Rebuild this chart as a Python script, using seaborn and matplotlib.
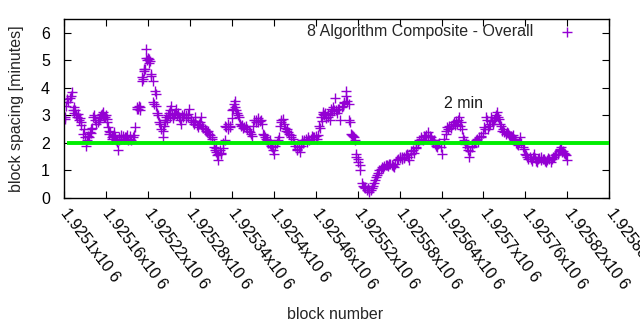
import numpy as np
import pandas as pd
import matplotlib
matplotlib.use("Agg")
import matplotlib.pyplot as plt
import seaborn as sns

base_block = 1925100

# block number relative to base_block
block_offset = [
    1, 2, 3, 4, 6, 8, 10, 12, 13, 14, 15, 16, 17, 18, 20, 22, 23, 24, 25, 27,
    28, 30, 31, 33, 35, 36, 37, 38, 39, 40, 41, 43, 44, 46, 48, 50, 51, 52, 53, 55,
    56, 57, 58, 60, 61, 62, 63, 64, 65, 66, 68, 69, 70, 71, 72, 73, 75, 76, 77, 78,
    79, 81, 82, 84, 86, 87, 89, 90, 92, 94, 95, 96, 98, 100, 102, 104, 105, 106, 107, 108,
    109, 111, 112, 113, 114, 115, 116, 117, 118, 119, 120, 121, 122, 123, 124, 125, 127, 128, 129, 130,
    131, 132, 133, 134, 136, 137, 139, 141, 142, 143, 144, 145, 146, 147, 149, 150, 151, 152, 153, 155,
    156, 158, 159, 160, 162, 163, 165, 166, 167, 169, 170, 172, 174, 175, 177, 178, 179, 181, 182, 184,
    186, 187, 188, 190, 191, 193, 194, 196, 197, 198, 199, 201, 203, 205, 206, 208, 209, 211, 212, 214,
    215, 216, 217, 218, 219, 220, 221, 223, 224, 225, 227, 228, 230, 231, 232, 234, 235, 237, 238, 240,
    241, 242, 243, 244, 245, 246, 247, 249, 251, 252, 253, 255, 256, 258, 260, 262, 264, 266, 268, 269,
    271, 272, 274, 275, 277, 278, 280, 282, 283, 284, 286, 287, 289, 291, 292, 294, 295, 296, 298, 299,
    301, 302, 304, 306, 308, 309, 310, 311, 313, 314, 316, 318, 319, 321, 322, 324, 325, 327, 329, 331,
    333, 334, 336, 337, 339, 341, 342, 344, 346, 348, 349, 351, 353, 355, 356, 358, 360, 362, 363, 365,
    366, 368, 369, 370, 371, 372, 374, 375, 377, 378, 380, 381, 382, 384, 385, 386, 387, 389, 391, 392,
    394, 395, 397, 399, 400, 401, 403, 404, 405, 407, 408, 409, 410, 412, 413, 415, 416, 417, 418, 420,
    421, 423, 424, 426, 427, 429, 430, 431, 433, 435, 436, 437, 439, 440, 442, 444, 445, 446, 448, 449,
    451, 453, 455, 457, 458, 460, 462, 464, 465, 467, 469, 471, 472, 474, 476, 478, 480, 481, 483, 484,
    486, 487, 489, 491, 492, 494, 496, 497, 499, 501, 503, 504, 506, 508, 510, 511, 513, 515, 516, 518,
    520, 521, 523, 525, 526, 528, 529, 531, 532, 534, 535, 537, 539, 541, 543, 544, 546, 547, 548, 550,
    551, 553, 554, 556, 558, 559, 561, 562, 564, 565, 567, 568, 570, 571, 572, 574, 575, 577, 578, 580,
    581, 583, 584, 586, 588, 589, 591, 592, 594, 596, 597, 599, 601, 602, 604, 605, 606, 608, 609, 611,
    612, 614, 615, 617, 618, 620, 621, 622, 624, 625, 627, 628, 630, 632, 633, 635, 636, 638, 639, 641,
    642, 644, 645, 647, 648, 649, 651, 653, 654, 656, 658, 659, 661, 663, 664, 666, 668, 669, 671, 672,
    674, 675, 677, 678, 680, 682, 683, 685, 687, 688, 690, 691, 693, 694, 696, 698, 699, 701, 703, 704,
    706, 708, 709, 710, 711, 712, 714, 715, 717, 718, 720,
]

# block spacing in minutes
spacing_min = [
    2.94, 2.88, 3.35, 3.6, 3.5, 3.65, 3.72, 3.84, 3.18, 3.3, 3.1, 3.2, 3.0, 2.95, 3.05, 2.82, 2.9, 2.65, 2.75, 2.33,
    2.5, 2.2, 1.88, 2.1, 2.27, 2.2, 2.4, 2.35, 2.5, 2.55, 2.94, 3.0, 2.85, 2.7, 2.76, 2.85, 2.94, 2.9, 3.0, 3.05,
    3.12, 2.95, 2.94, 3.0, 2.88, 2.75, 2.57, 2.45, 2.33, 2.4, 2.15, 2.2, 2.27, 2.3, 2.4, 2.2, 2.09, 2.05, 1.73, 2.1,
    2.21, 2.15, 2.3, 2.27, 2.15, 2.2, 2.21, 2.3, 2.1, 2.15, 2.25, 2.1, 2.21, 2.3, 2.57, 3.25, 3.3, 3.24, 3.35, 3.18,
    3.3, 4.26, 4.4, 4.32, 4.7, 4.62, 4.68, 5.1, 5.4, 5.0, 5.1, 5.05, 4.9, 4.98, 4.5, 4.45, 4.26, 3.48, 3.4, 3.9,
    3.35, 3.78, 3.1, 3.0, 2.75, 2.7, 2.5, 2.45, 2.21, 2.6, 2.82, 2.75, 2.94, 2.85, 3.0, 3.1, 3.18, 2.95, 3.35, 3.05,
    2.9, 3.0, 3.1, 3.24, 3.0, 3.1, 2.94, 2.85, 2.7, 3.0, 2.95, 3.06, 3.0, 2.9, 2.94, 3.05, 3.24, 2.85, 2.82, 2.75,
    2.7, 2.8, 2.94, 2.65, 2.57, 2.7, 2.75, 2.94, 2.6, 2.63, 2.55, 2.5, 2.45, 2.4, 2.45, 2.33, 2.3, 2.2, 2.15, 2.0,
    1.85, 1.75, 1.8, 1.67, 1.55, 1.37, 1.6, 1.75, 1.65, 1.61, 1.8, 2.0, 2.09, 2.6, 2.57, 2.5, 2.7, 2.63, 2.57, 2.9,
    3.18, 3.24, 3.4, 3.54, 3.3, 3.18, 3.1, 3.0, 2.94, 2.7, 2.63, 2.65, 2.55, 2.57, 2.6, 2.5, 2.45, 2.4, 2.33, 2.25,
    2.6, 2.82, 2.75, 2.85, 2.76, 2.9, 2.8, 2.82, 2.7, 2.33, 2.3, 2.2, 2.15, 2.1, 2.0, 2.09, 1.95, 1.9, 1.85, 1.75,
    1.61, 1.9, 2.0, 2.1, 2.21, 2.6, 2.82, 2.75, 2.88, 2.7, 2.55, 2.45, 2.5, 2.4, 2.33, 2.3, 2.2, 2.15, 2.0, 1.9,
    1.79, 1.75, 1.85, 1.67, 1.9, 2.09, 2.0, 2.1, 2.15, 2.05, 2.2, 2.1, 2.15, 2.27, 2.2, 2.2, 2.27, 2.15, 2.3, 2.63,
    2.55, 2.94, 2.8, 3.12, 3.05, 3.0, 3.1, 2.9, 2.94, 3.05, 2.82, 3.0, 3.24, 3.15, 3.3, 3.2, 3.65, 3.18, 3.1, 3.25,
    3.24, 2.82, 3.3, 3.35, 3.45, 3.48, 3.9, 3.7, 3.54, 3.4, 2.82, 2.75, 2.33, 2.3, 2.27, 2.21, 2.1, 1.61, 1.5, 1.43,
    1.3, 1.2, 1.01, 0.53, 0.45, 0.4, 0.35, 0.41, 0.3, 0.35, 0.28, 0.23, 0.3, 0.35, 0.45, 0.53, 0.65, 0.77, 0.85, 0.9,
    1.01, 1.05, 1.13, 1.1, 1.15, 1.19, 1.2, 1.15, 1.25, 1.25, 1.2, 1.15, 1.13, 1.25, 1.37, 1.4, 1.45, 1.49, 1.4, 1.49,
    1.5, 1.45, 1.55, 1.6, 1.5, 1.37, 1.6, 1.7, 1.73, 1.65, 1.85, 1.8, 1.95, 2.09, 2.15, 2.2, 2.1, 2.27, 2.2, 2.3,
    2.4, 2.2, 2.25, 2.21, 2.1, 2.05, 2.09, 1.95, 1.9, 1.85, 1.95, 2.0, 1.85, 1.61, 2.0, 2.15, 2.33, 2.45, 2.57, 2.5,
    2.6, 2.63, 2.55, 2.7, 2.76, 2.65, 2.8, 2.7, 2.85, 2.94, 2.6, 2.75, 2.5, 2.2, 2.09, 1.95, 2.0, 1.85, 1.75, 1.49,
    1.7, 1.9, 1.85, 2.0, 2.05, 2.1, 2.15, 2.05, 2.2, 2.27, 2.2, 2.35, 2.57, 2.5, 2.94, 2.82, 2.5, 2.6, 2.7, 2.94,
    2.8, 2.7, 2.82, 2.9, 3.0, 3.12, 2.95, 2.88, 2.7, 2.6, 2.45, 2.5, 2.4, 2.33, 2.4, 2.35, 2.3, 2.25, 2.27, 2.2,
    2.3, 2.15, 2.1, 2.0, 1.95, 1.91, 2.05, 2.21, 2.0, 1.85, 1.79, 1.6, 1.55, 1.49, 1.4, 1.5, 1.43, 1.35, 1.5, 1.61,
    1.45, 1.35, 1.31, 1.4, 1.45, 1.49, 1.38, 1.4, 1.43, 1.35, 1.3, 1.37, 1.45, 1.4, 1.31, 1.4, 1.5, 1.49, 1.55, 1.6,
    1.61, 1.7, 1.75, 1.79, 1.85, 1.67, 1.7, 1.65, 1.61, 1.55, 1.37,
]

target_spacing = 2.0
series_label = "8 Algorithm Composite - Overall"
target_label = "2 min"
x_tick_values = [base_block + 60 * k for k in range(14)]
y_tick_values = [0, 1, 2, 3, 4, 5, 6]

df = pd.DataFrame({
    "block": np.array(block_offset) + base_block,
    "spacing": spacing_min,
})

sns.set_theme(style="ticks")
plt.rcParams["font.family"] = ["Liberation Sans", "DejaVu Sans"]
FS = 11.5

fig = plt.figure(figsize=(6.4, 3.3), dpi=100)
ax = fig.add_axes([0.1, 0.4, 0.852, 0.542])

purple = "#9400d3"
sns.scatterplot(data=df, x="block", y="spacing", marker="+", s=48,
                color=purple, linewidth=1.0, ax=ax, label=series_label,
                zorder=2)

ax.hlines(target_spacing, base_block + 4, base_block + 780,
          color="#00ee00", linewidth=2.8, zorder=3)
ax.text(base_block + 572, 3.45, target_label, ha="center", va="center",
        fontsize=FS, color="#1a1a1a")

ax.set_xlim(base_block, base_block + 780)
ax.set_ylim(0, 6.5)
ax.set_xticks(x_tick_values)
ax.set_xticklabels([f"{v / 1e6:g}x10 6" for v in x_tick_values],
                   rotation=-53, ha="left", va="center", rotation_mode="anchor",
                   fontsize=FS)
ax.set_yticks(y_tick_values)
ax.set_yticklabels([str(v) for v in y_tick_values], fontsize=FS)
ax.tick_params(axis="both", direction="in", length=5, width=0.8,
               top=True, right=True, colors="black")
ax.tick_params(axis="y", pad=10)
ax.tick_params(axis="x", pad=9)
for sp in ax.spines.values():
    sp.set_visible(True)
    sp.set_color("black")
    sp.set_linewidth(1.0)

ax.set_xlabel("block number", fontsize=FS)
ax.set_ylabel("block spacing [minutes]", fontsize=FS, labelpad=12)
ax.xaxis.set_label_coords(0.497, -0.61)

leg = ax.legend(loc="upper right", bbox_to_anchor=(0.963, 1.008),
                frameon=False, markerfirst=False, fontsize=FS,
                handletextpad=1.1, borderaxespad=0.0, handlelength=2.0)

fig.savefig("out.png", dpi=100)
